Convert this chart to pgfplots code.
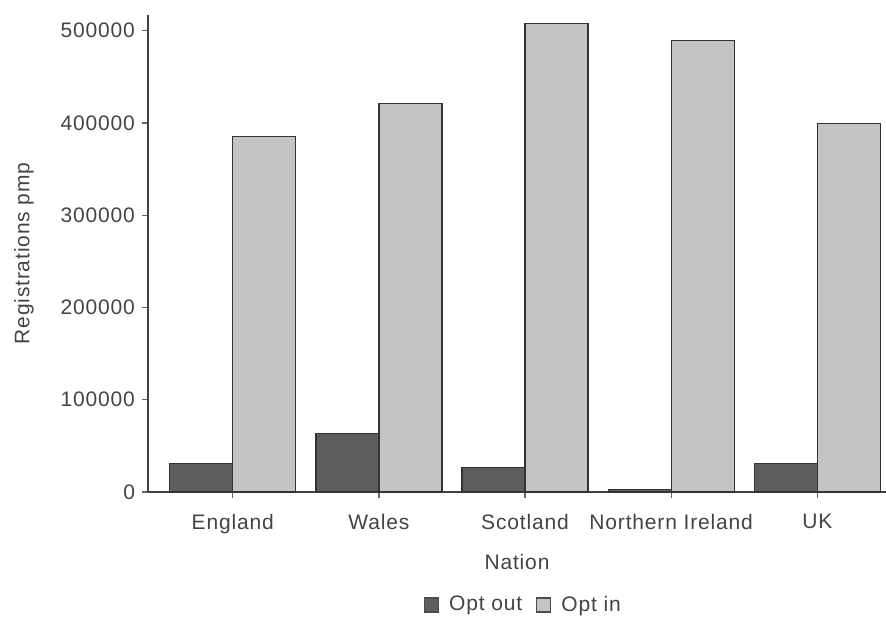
\documentclass[border=0pt]{standalone}
\usepackage{pgfplots}
\pgfplotsset{compat=1.18}
\usepackage{fontspec}
\setmainfont{Liberation Sans}[LetterSpace=4]
\definecolor{optout}{HTML}{5E5E5E}
\definecolor{optin}{HTML}{C4C4C4}
\definecolor{txt}{HTML}{444444}
\begin{document}
\begin{tikzpicture}
\useasboundingbox (-74pt,-62.5pt) rectangle (369pt,246pt);
\begin{axis}[
  at={(0,0)}, anchor=south west,
  scale only axis,
  width=369pt, height=238.5pt,
  ybar=0pt, bar width=31.5pt,
  xmin=-0.58, xmax=4.47,
  ymin=0, ymax=517000,
  xtick={0,1,2,3,4},
  xticklabels={England,Wales,Scotland,Northern Ireland,UK},
  ytick={0,100000,200000,300000,400000,500000},
  scaled y ticks=false,
  /pgf/number format/assume math mode=true,
  yticklabel style={/pgf/number format/fixed,/pgf/number format/1000 sep={}},
  axis lines=left,
  axis line style={-, draw=black!75, line width=0.8pt},
  tick align=outside,
  major tick length=3pt,
  tick style={draw=black!60, line width=0.6pt},
  font=\fontsize{10.5}{12}\selectfont,
  every tick label/.append style={text=txt},
  xticklabel style={yshift=-4.5pt},
  xlabel={Nation},
  ylabel={Registrations pmp},
  label style={text=txt},
  xlabel style={at={(axis description cs:0.5,-0.147)}, anchor=center},
  ylabel style={at={(axis description cs:-0.168,0.5)}, anchor=center},
  legend style={at={(0.51,-0.237)}, anchor=center, draw=none, legend columns=-1,
    font=\fontsize{10.5}{12}\selectfont, text=txt,
    /tikz/every odd column/.append style={column sep=3pt},
    /tikz/every even column/.append style={column sep=5pt}},
  legend image code/.code={\draw[#1, draw=black!70] (0pt,-3.5pt) rectangle (7pt,3.5pt);},
]
\addplot[fill=optout, draw=black!80, line width=0.6pt] coordinates {(0,31100) (1,63700) (2,26800) (3,2600) (4,31100)};
\addplot[fill=optin, draw=black!80, line width=0.6pt] coordinates {(0,385400) (1,420800) (2,507600) (3,489500) (4,399100)};
\legend{Opt out, Opt in}
\end{axis}
\end{tikzpicture}
\end{document}
